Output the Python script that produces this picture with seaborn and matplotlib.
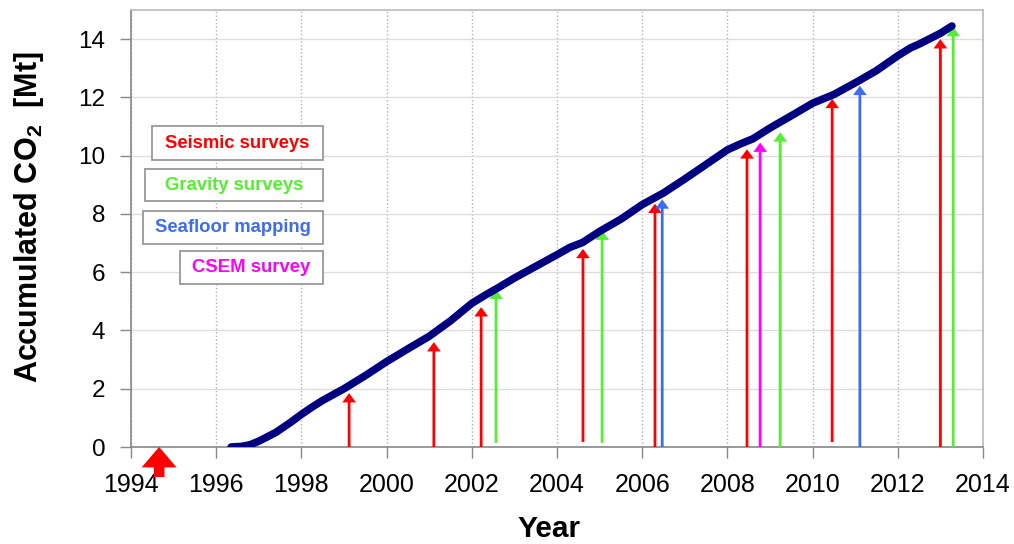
import numpy as np
import pandas as pd
import seaborn as sns
import matplotlib.pyplot as plt
from matplotlib.patches import Rectangle

# %%
# Accumulated injected CO2 (Mt)
years = [1996.35, 1996.6, 1996.8, 1997.0, 1997.2, 1997.4, 1997.5, 1997.75, 1998.0,
         1998.25, 1998.5, 1999.0, 1999.5, 2000.0, 2000.25, 2000.5, 2001.0, 2001.5,
         2002.0, 2002.3, 2002.6, 2003.0, 2003.5, 2004.0, 2004.3, 2004.6, 2005.0,
         2005.5, 2006.0, 2006.5, 2007.0, 2007.5, 2008.0, 2008.3, 2008.6, 2009.0,
         2009.5, 2010.0, 2010.5, 2011.0, 2011.5, 2012.0, 2012.3, 2012.5, 2013.0, 2013.27]
co2 = [0.0, 0.02, 0.08, 0.2, 0.35, 0.5, 0.6, 0.85, 1.12,
       1.37, 1.6, 2.0, 2.45, 2.93, 3.15, 3.37, 3.8, 4.33,
       4.93, 5.2, 5.45, 5.8, 6.2, 6.6, 6.85, 7.02, 7.4,
       7.82, 8.32, 8.72, 9.2, 9.7, 10.2, 10.4, 10.58, 10.95,
       11.37, 11.8, 12.1, 12.5, 12.92, 13.43, 13.7, 13.83, 14.2, 14.45]

# survey arrows: year, bottom, top
seismic_x = [1999.12, 2001.11, 2002.22, 2004.61, 2006.30, 2008.46, 2010.46, 2013.0]
seismic_base = [0, 0, 0, 0.17, 0, 0, 0.17, 0]
seismic_top = [1.85, 3.6, 4.8, 6.8, 8.35, 10.22, 11.95, 14.0]

gravity_x = [2002.57, 2005.06, 2009.24, 2013.3]
gravity_base = [0.14, 0.14, -0.1, -0.1]
gravity_top = [5.4, 7.43, 10.8, 14.42]

seafloor_x = [2006.47, 2011.11]
seafloor_base = [0, 0]
seafloor_top = [8.5, 12.4]

csem_x = [2008.77]
csem_base = [0]
csem_top = [10.45]

baseline_x = 1994.66
baseline_base = -1.03

surveys = [
    ('Seismic surveys', '#ff0000', seismic_x, seismic_base, seismic_top),
    ('Gravity surveys', '#55ee33', gravity_x, gravity_base, gravity_top),
    ('Seafloor mapping', '#3c6cf5', seafloor_x, seafloor_base, seafloor_top),
    ('CSEM survey', '#ff00ff', csem_x, csem_base, csem_top),
]

# %%
sns.set_style('white')
plt.rcParams['font.family'] = ['Liberation Sans', 'DejaVu Sans']
plt.rcParams['mathtext.fontset'] = 'custom'
plt.rcParams['mathtext.rm'] = 'Liberation Sans:bold'
plt.rcParams['mathtext.bf'] = 'Liberation Sans:bold'
plt.rcParams['text.color'] = 'black'
plt.rcParams['axes.labelcolor'] = 'black'
plt.rcParams['xtick.color'] = 'black'
plt.rcParams['ytick.color'] = 'black'

fig = plt.figure(figsize=(10.14, 5.44), dpi=100)
ax = fig.add_axes([131 / 1014, 1 - 447 / 544, 852 / 1014, 437 / 544])

df = pd.DataFrame({'Year': years, 'CO2': co2})
sns.lineplot(data=df, x='Year', y='CO2', color='#000080', linewidth=5.5,
             ax=ax, zorder=5, solid_capstyle='round', solid_joinstyle='round')

for name, col, xs, bases, tops in surveys:
    for x, b, t in zip(xs, bases, tops):
        ax.arrow(x, b, 0, t - b, width=0.065, head_width=0.32, head_length=0.32,
                 length_includes_head=True, color=col, lw=0, zorder=4)

# baseline survey arrow below the axis
ax.arrow(baseline_x, baseline_base, 0, -baseline_base, width=0.25, head_width=0.82,
         head_length=0.7, length_includes_head=True, color='#ff0000', lw=0,
         zorder=6, clip_on=False)

ax.set_xlim(1994, 2014)
ax.set_ylim(0, 15)
ax.set_xticks(range(1994, 2015, 2))
ax.set_yticks(range(0, 15, 2))
ax.tick_params(axis='both', length=8, width=1, color='#888888',
               labelcolor='black', direction='out', bottom=True, left=True, pad=10.5)
ax.tick_params(axis='x', labelsize=18)
ax.tick_params(axis='y', labelsize=17.5)
ax.xaxis.grid(True, color='#b0b0b0', linestyle=':', linewidth=1)
ax.yaxis.grid(True, color='#dddddd', linestyle='-', linewidth=1)
ax.set_axisbelow(True)
for s in ['left', 'bottom']:
    ax.spines[s].set_color('#888888')
    ax.spines[s].set_linewidth(1.2)
for s in ['top', 'right']:
    ax.spines[s].set_color('#bbbbbb')
    ax.spines[s].set_linewidth(1.2)

ax.set_xlabel('Year', fontsize=21.5, fontweight='bold', va='top')
ax.xaxis.set_label_coords(0.4912, -0.156)
ax.set_ylabel('Accumulated CO$_\\mathbf{2}$  [Mt]', fontsize=22, fontweight='bold')
ax.yaxis.set_label_coords(-0.1, 0.526)

# legend boxes (pixel positions)
boxes = [(152, 323, 126, 160), (145, 323, 169, 201), (143, 323, 211, 244), (180, 323, 251, 284)]
for (name, col, *_), (x0, x1, y0, y1) in zip(surveys, boxes):
    fig.patches.append(Rectangle((x0 / 1014, 1 - y1 / 544), (x1 - x0) / 1014, (y1 - y0) / 544,
                                 transform=fig.transFigure, facecolor='white',
                                 edgecolor='#999999', linewidth=1.3, zorder=10))
    fig.text((x0 + x1) / 2 / 1014, 1 - (y0 + y1) / 2 / 544, name, color=col,
             fontsize=13.3, fontweight='bold', ha='center', va='center', zorder=11)

fig.savefig('out.png', dpi=100)
